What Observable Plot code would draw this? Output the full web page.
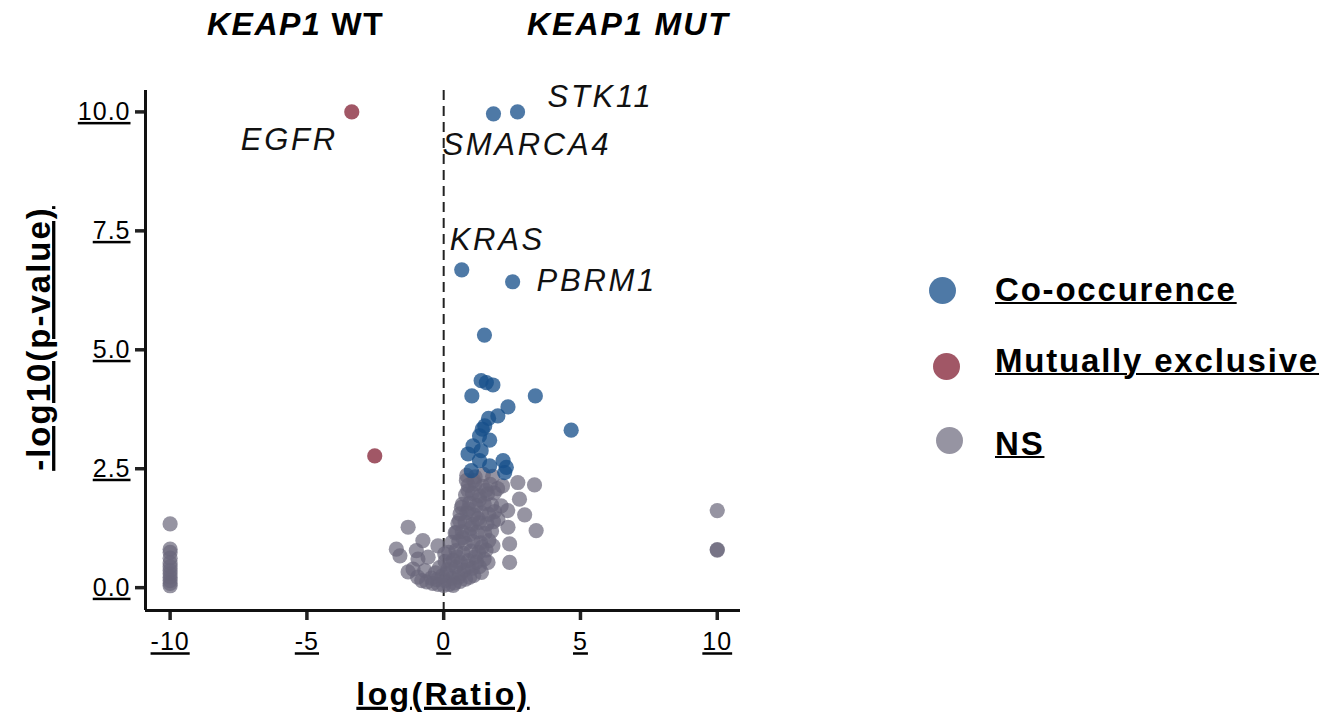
<!DOCTYPE html>
<html>
<head>
<meta charset="utf-8">
<script src="https://cdn.jsdelivr.net/npm/d3@7"></script>
<script src="https://cdn.jsdelivr.net/npm/@observablehq/plot@0.6"></script>
<style>
  html, body { margin: 0; padding: 0; background: #fff; }
  #figure { position: relative; width: 1330px; height: 716px; font-family: "Liberation Sans", Arial, sans-serif; color: #000; }
  #header { position: relative; height: 60px; }
  #header span { position: absolute; top: 8px; font-size: 32px; font-weight: bold; line-height: 1; white-space: nowrap; }
  #legend { position: absolute; left: 0; top: 0; }
  .key { position: absolute; white-space: nowrap; }
  .key .swatch { position: absolute; width: 27px; height: 27px; border-radius: 50%; }
  .key .name { position: absolute; left: 0; font-size: 33px; font-weight: bold; line-height: 1; text-decoration: underline; text-decoration-thickness: 2px; letter-spacing: 1.8px; }
  svg g[aria-label$="tick label"] text { text-decoration: underline; letter-spacing: 1px; }
  .axis-title { text-decoration: underline; }
</style>
</head>
<body>
<div id="figure">
  <div id="header">
    <span style="left:207px; letter-spacing:1.5px"><i>KEAP1</i> WT</span>
    <span style="left:527px; letter-spacing:2px"><i>KEAP1 MUT</i></span>
  </div>
  <div id="chart"></div>
  <div id="legend"></div>
</div>
<script>
// Significant co-occurring alterations: [log(Ratio), -log10(p-value)]
const coOccurrence = [
  [1.82, 9.96], [2.70, 10.0], [0.66, 6.68], [2.52, 6.43], [1.49, 5.31],
  [1.37, 4.35], [1.56, 4.31], [1.80, 4.26], [1.03, 4.03], [3.35, 4.03],
  [2.35, 3.80], [1.98, 3.61], [1.64, 3.56], [1.50, 3.40], [1.41, 3.33],
  [4.66, 3.31], [1.31, 3.19], [1.68, 3.10], [1.07, 2.98], [1.37, 2.88],
  [0.89, 2.81], [1.31, 2.67], [2.17, 2.67], [2.29, 2.53], [1.68, 2.56],
  [1.01, 2.46], [2.23, 2.42]
];

// Significant mutually exclusive alterations
const mutuallyExclusive = [
  [-3.36, 10.0], [-2.52, 2.77]
];

// Non-significant alterations
const notSignificant = [
  // log(Ratio) pinned at -10
  [-10, 1.34], [-10, 0.81], [-10, 0.74], [-10, 0.62], [-10, 0.52], [-10, 0.44],
  [-10, 0.36], [-10, 0.29], [-10, 0.22], [-10, 0.15], [-10, 0.09], [-10, 0.04],
  // log(Ratio) pinned at 10
  [10, 1.62], [10, 0.80], [10, 0.79],
  // left shoulder
  [-1.73, 0.81], [-1.60, 0.67], [-1.30, 1.27], [-1.12, 0.39], [-1.00, 0.78],
  [-0.94, 0.60], [-0.76, 0.99], [-0.69, 0.36], [-0.57, 0.64], [-0.21, 0.88],
  [-1.30, 0.33], [-0.95, 0.22], [-0.80, 0.15], [-0.62, 0.12], [-0.45, 0.20],
  [-0.40, 0.09], [-0.25, 0.17], [-0.20, 0.07], [-0.30, 0.31], [0.00, 0.05],
  [0.05, 0.15], [0.10, 0.30], [0.20, 0.07], [0.30, 0.20], [0.40, 0.10],
  [0.55, 0.22], [0.60, 0.13], [0.80, 0.18], [0.95, 0.22], [1.10, 0.26],
  [1.38, 0.32], [-0.05, 0.25], [0.35, 0.05], [0.04, 0.71],
  // main body
  [-0.15, 0.42], [0.15, 0.38], [0.45, 0.43], [0.75, 0.37], [1.05, 0.41], [1.30, 0.44],
  [0.05, 0.55], [0.35, 0.58], [0.62, 0.52], [0.90, 0.57], [1.20, 0.54], [1.48, 0.60],
  [0.18, 0.74], [0.45, 0.78], [0.72, 0.72], [1.00, 0.77], [1.28, 0.74], [1.55, 0.79],
  [0.30, 0.95], [0.55, 0.98], [0.80, 0.93], [1.08, 0.97], [1.35, 0.94], [1.65, 0.99],
  [0.42, 1.15], [0.68, 1.18], [0.95, 1.12], [1.22, 1.17], [1.50, 1.14], [1.75, 1.19],
  [0.52, 1.35], [0.78, 1.38], [1.05, 1.33], [1.30, 1.37], [1.58, 1.34], [1.82, 1.39],
  [0.60, 1.55], [0.85, 1.58], [1.10, 1.53], [1.38, 1.57], [1.65, 1.54], [1.86, 1.60],
  [0.68, 1.75], [0.95, 1.78], [1.20, 1.73], [1.48, 1.77], [1.75, 1.74],
  [0.80, 1.95], [1.05, 1.98], [1.32, 1.93], [1.60, 1.97], [1.85, 1.99],
  [0.90, 2.15], [1.15, 2.18], [1.42, 2.13], [1.70, 2.17],
  [0.84, 2.36], [1.15, 2.33], [1.45, 2.38], [1.79, 2.34],
  [0.25, 0.50], [0.60, 0.30], [0.90, 0.45], [1.15, 0.65], [0.50, 0.65],
  [1.40, 0.85], [0.70, 1.05], [1.00, 1.25], [1.25, 1.45], [0.90, 1.65],
  [1.30, 1.85], [1.55, 2.05], [1.10, 2.25], [0.46, 1.16], [0.58, 1.41],
  [0.65, 1.69], [0.83, 2.25], [0.89, 2.04],
  // right edge
  [3.32, 2.16], [2.71, 2.21], [2.77, 1.86], [2.96, 1.53], [3.38, 1.20],
  [2.35, 1.27], [2.41, 0.92], [2.41, 0.53], [2.10, 1.72], [2.34, 1.62],
  [1.97, 2.08], [2.15, 2.14], [1.98, 1.44], [1.80, 0.88], [1.62, 0.53]
];

// Gene names written next to their points
const geneLabels = [
  {gene: "STK11", x: 2.70, y: 10.0},
  {gene: "SMARCA4", x: 1.82, y: 9.96},
  {gene: "KRAS", x: 0.66, y: 6.68},
  {gene: "PBRM1", x: 2.52, y: 6.43},
  {gene: "EGFR", x: -3.36, y: 10.0}
];

const xTicks = [-10, -5, 0, 5, 10];
const yTicks = [0, 2.5, 5, 7.5, 10];
const xDomain = [-10.9, 10.85];
const yDomain = [-0.48, 10.45];

const legendItems = ["Co-occurence", "Mutually exclusive", "NS"];
const colors = {
  "Co-occurence": "#174f8a",
  "Mutually exclusive": "#87283b",
  "NS": "#69667a"
};
const opacity = {"Co-occurence": 0.76, "Mutually exclusive": 0.78, "NS": 0.7};

// Offsets of each gene label from its point
const labelPlacement = {
  STK11:   {dx: 30,  dy: -15, anchor: "start"},
  SMARCA4: {dx: -51, dy: 31,  anchor: "start"},
  KRAS:    {dx: -12, dy: -30, anchor: "start"},
  PBRM1:   {dx: 24,  dy: -1,  anchor: "start"},
  EGFR:    {dx: -14, dy: 28,  anchor: "end"}
};

const toRows = (pts, group) => pts.map(([x, y]) => ({x, y, group}));
const rows = [
  ...toRows(notSignificant, "NS"),
  ...toRows(coOccurrence, "Co-occurence"),
  ...toRows(mutuallyExclusive, "Mutually exclusive")
];

const dotMark = (group) => Plot.dot(rows.filter(d => d.group === group), {
  x: "x", y: "y", r: 7.6, fill: colors[group], fillOpacity: opacity[group], stroke: "none"
});

const plot = Plot.plot({
  width: 760,
  height: 656,
  marginTop: 30,
  marginBottom: 106,
  marginLeft: 145,
  marginRight: 20,
  style: {fontFamily: "'Liberation Sans', Arial, sans-serif", background: "#fff", color: "#000"},
  x: {domain: xDomain},
  y: {domain: yDomain},
  marks: [
    Plot.ruleX([0], {stroke: "#222", strokeWidth: 2, strokeDasharray: "10,6"}),
    dotMark("NS"),
    dotMark("Co-occurence"),
    dotMark("Mutually exclusive"),
    ...geneLabels.map(d => {
      const p = labelPlacement[d.gene];
      return Plot.text([d], {
        x: "x", y: "y", text: "gene",
        dx: p.dx, dy: p.dy, textAnchor: p.anchor,
        fontSize: 31, fontStyle: "italic", fill: "#111",
        className: "gene-label"
      });
    }),
    Plot.axisX({ticks: xTicks, tickFormat: d => String(d), tickSize: 10, tickPadding: 12,
      fontSize: 25, strokeWidth: 3.5, stroke: "#222", label: null}),
    Plot.axisY({ticks: yTicks, tickFormat: d => d.toFixed(1), tickSize: 10, tickPadding: 5,
      fontSize: 25, strokeWidth: 3.5, stroke: "#222", label: null}),
    Plot.ruleX([xDomain[0]], {stroke: "#111", strokeWidth: 3}),
    Plot.ruleY([yDomain[0]], {stroke: "#111", strokeWidth: 3}),
    Plot.text(["log(Ratio)"], {frameAnchor: "bottom", lineAnchor: "middle", dy: 84, fontSize: 32,
      fontWeight: "bold", className: "x-title"}),
    Plot.text(["-log10(p-value)"], {frameAnchor: "left", textAnchor: "middle", lineAnchor: "middle",
      rotate: -90, dx: -106, dy: -12, fontSize: 33, fontWeight: "bold", className: "y-title"})
  ]
});
document.getElementById("chart").appendChild(plot);

// Underline the axis titles and widen the label lettering
const svgText = plot.querySelectorAll("text");
svgText.forEach(t => {
  const s = t.textContent;
  if (s === "log(Ratio)" || s === "-log10(p-value)") {
    t.setAttribute("text-decoration", "underline");
    t.style.textDecoration = "underline";
    t.style.letterSpacing = s === "log(Ratio)" ? "2.4px" : "2px";
  }
  if (geneLabels.some(g => g.gene === s)) {
    t.style.letterSpacing = "2.7px";
  }
});

// Legend beside the chart
const legendPos = [
  {textTop: 273, cx: 942, cy: 290},
  {textTop: 344, cx: 946, cy: 366},
  {textTop: 427, cx: 949, cy: 440}
];
const legend = document.getElementById("legend");
legendItems.forEach((name, i) => {
  const pos = legendPos[i];
  const key = document.createElement("div");
  key.className = "key";
  const sw = document.createElement("div");
  sw.className = "swatch";
  sw.style.left = (pos.cx - 13.5) + "px";
  sw.style.top = (pos.cy - 13.5) + "px";
  sw.style.background = colors[name];
  sw.style.opacity = opacity[name];
  const label = document.createElement("div");
  label.className = "name";
  label.textContent = name;
  label.style.left = "995px";
  label.style.top = pos.textTop + "px";
  key.appendChild(sw);
  key.appendChild(label);
  legend.appendChild(key);
});
</script>
</body>
</html>
